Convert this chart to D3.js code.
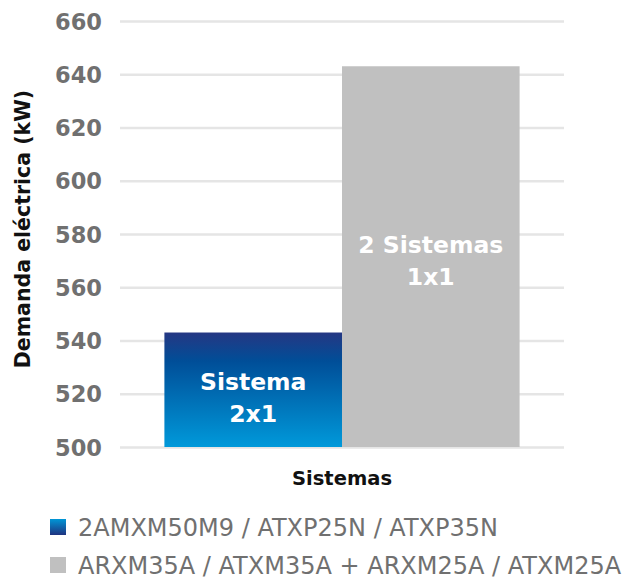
<!DOCTYPE html>
<html><head><meta charset="utf-8">
<script src="https://cdn.jsdelivr.net/npm/d3@7"></script>
<style>body{margin:0;background:#fff}svg{display:block}</style>
</head><body><svg id="c" width="632" height="579"></svg>
<script>
const categories = ["Sistemas"];
const series = ["2AMXM50M9 / ATXP25N / ATXP35N", "ARXM35A / ATXM35A + ARXM25A / ATXM25A"];
const values = [543, 643];
const barLabels = [["Sistema", "2x1"], ["2 Sistemas", "1x1"]];
const yTicks = [500, 520, 540, 560, 580, 600, 620, 640, 660];

const FONT = "'DejaVu Sans', sans-serif";
const svg = d3.select("#c");
const m = {l:120, r:68, t:21, b:132};
const W = 632, H = 579;
const y = d3.scaleLinear().domain([500, 660]).range([H - m.b, m.t]);
const x0 = d3.scaleBand().domain(categories).range([m.l, W - m.r]).paddingOuter(0.125).paddingInner(0);
const x1 = d3.scaleBand().domain(series).range([0, x0.bandwidth()]).padding(0);

const defs = svg.append("defs");
const g1 = defs.append("linearGradient").attr("id","blue").attr("x1",0).attr("y1",0).attr("x2",0).attr("y2",1);
g1.append("stop").attr("offset","0%").attr("stop-color","#253783");
g1.append("stop").attr("offset","25%").attr("stop-color","#004e98");
g1.append("stop").attr("offset","100%").attr("stop-color","#0099da");
const g2 = defs.append("linearGradient").attr("id","blueL").attr("x1",0).attr("y1",0).attr("x2",0).attr("y2",1);
g2.append("stop").attr("offset","0%").attr("stop-color","#0096d6");
g2.append("stop").attr("offset","100%").attr("stop-color","#1f3380");
const fills = ["url(#blue)", "#c0c0c0"];
const legendFills = ["url(#blueL)", "#c0c0c0"];

// grid
const yAxis = d3.axisLeft(y).tickValues(yTicks).tickSize(-(W - m.r - m.l)).tickFormat(d3.format("d"));
const ga = svg.append("g").attr("transform", `translate(${m.l},0)`).call(yAxis);
ga.select(".domain").remove();
ga.selectAll(".tick line").attr("stroke","#e5e5e5").attr("stroke-width",2.5);
ga.selectAll(".tick text").attr("x",-18).attr("dy","0.36em").attr("fill","#707070")
  .style("font-family",FONT).style("font-size","22.5px").style("font-weight","700");

// bars
const bars = svg.append("g");
series.forEach((s,i) => {
  const bx = x0(categories[0]) + x1(s);
  bars.append("rect").attr("x", bx).attr("y", y(values[i])).attr("width", x1.bandwidth())
    .attr("height", y(500) - y(values[i])).attr("fill", fills[i]);
});
// bar labels
const labelY = [[390, 422],[253, 285]];
series.forEach((s,i) => {
  const cx = x0(categories[0]) + x1(s) + x1.bandwidth()/2;
  barLabels[i].forEach((t,j) => {
    svg.append("text").attr("x", cx).attr("y", labelY[i][j]).attr("text-anchor","middle")
      .attr("fill","#fff").style("font-family",FONT).style("font-size","23.5px")
      .style("font-weight", "700").text(t);
  });
});

// axis titles
svg.append("text").attr("x", x0(categories[0]) + x0.bandwidth()/2).attr("y", 485).attr("text-anchor","middle")
  .attr("fill","#111").style("font-family",FONT).style("font-size","19.5px").style("font-weight","700").text(categories[0]);
svg.append("text").attr("transform","translate(30,229) rotate(-90)").attr("text-anchor","middle")
  .attr("fill","#111").style("font-family",FONT).style("font-size","20.5px").style("font-weight","700").text("Demanda eléctrica (kW)");

// legend
series.forEach((s,i) => {
  const ly = 519 + i*38;
  svg.append("rect").attr("x",50).attr("y",ly).attr("width",16).attr("height",16).attr("fill",legendFills[i]);
  svg.append("text").attr("x",78).attr("y",ly+17).attr("fill","#707070")
    .style("font-family",FONT).style("font-size","24px").style("font-weight","400").text(s);
});
</script></body></html>
